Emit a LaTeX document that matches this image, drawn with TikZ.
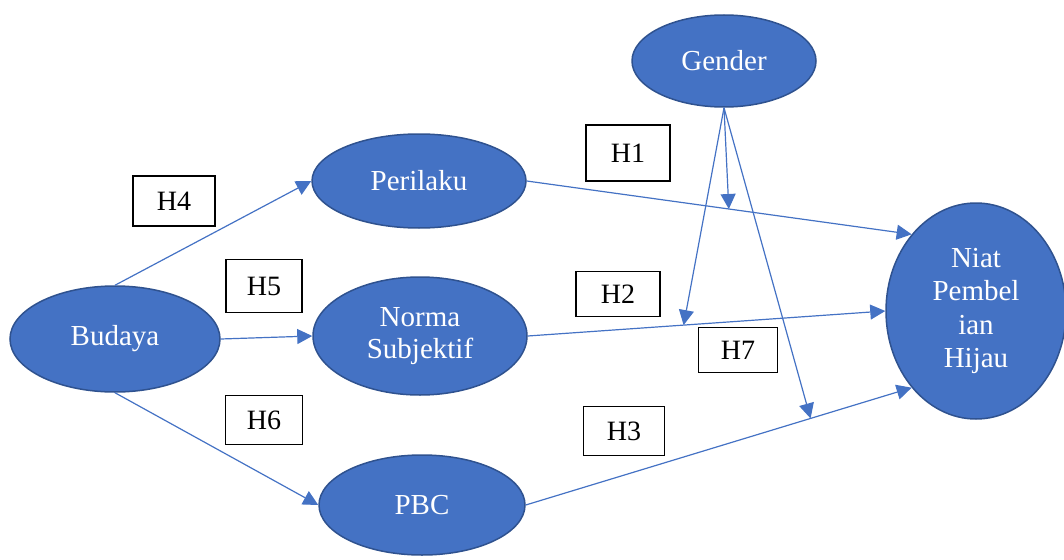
\documentclass[tikz,border=0pt]{standalone}
\usepackage{fontspec}
\setmainfont{Liberation Serif}
\usetikzlibrary{shapes.geometric,arrows.meta}
\definecolor{fillblue}{HTML}{4472C4}
\definecolor{edgeblue}{HTML}{2F528F}
\begin{document}
\begin{tikzpicture}[x=1pt,y=-1pt,
  construct/.style={ellipse,draw=edgeblue,line width=1.5pt,fill=fillblue,text=white,
    inner sep=0pt,font=\fontsize{29}{32}\selectfont,align=center},
  hyp/.style={draw=black,line width=1.1pt,fill=white,inner sep=0pt,
    font=\fontsize{28}{31}\selectfont},
  link/.style={draw=fillblue,line width=1.2pt,-{Triangle[length=15pt,width=15pt]}}]
\useasboundingbox (0,0) rectangle (1064,559);

% constructs
\node[construct,minimum width=184pt,minimum height=92pt] (gender) at (724,61) {Gender};
\node[construct,minimum width=214pt,minimum height=94pt] (perilaku) at (419,181) {Perilaku};
\node[construct,minimum width=210pt,minimum height=106pt] (budaya) at (115,339) {Budaya};
\node[construct,minimum width=214pt,minimum height=118pt] (norma) at (420,336) {Norma\\Subjektif};
\node[construct,minimum width=206pt,minimum height=100pt] (pbc) at (422,505) {PBC};
\node[construct,minimum width=180pt,minimum height=216pt,font=\fontsize{29}{33.5}\selectfont] (niat) at (976,311) {Niat\\Pembel\\ian\\Hijau};

% hypothesis labels
\node[hyp,minimum width=84pt,minimum height=56pt] (h1) at (628,153) {H1};
\node[hyp,minimum width=84pt,minimum height=45pt] (h2) at (618,294) {\raisebox{-5pt}{H2}};
\node[hyp,minimum width=79pt,minimum height=45pt] (h7) at (738,350) {H7};
\node[hyp,minimum width=81pt,minimum height=49pt] (h3) at (624,431) {H3};
\node[hyp,minimum width=82pt,minimum height=50pt] (h4) at (174,201) {H4};
\node[hyp,minimum width=76pt,minimum height=53pt] (h5) at (264,286) {H5};
\node[hyp,minimum width=77pt,minimum height=49pt] (h6) at (264,420) {H6};

% direct paths
\draw[link] (budaya.north) -- (perilaku.west);
\draw[link] (budaya.east) -- (norma.west);
\draw[link] (budaya.south) -- (pbc.west);
\draw[link] (perilaku.east) -- (niat.130) coordinate[pos=0.525] (m1);
\draw[link] (norma.east) -- (niat.west) coordinate[pos=0.436] (m2);
\draw[link] (pbc.east) -- (niat.230) coordinate[pos=0.738] (m3);

% moderation by gender
\draw[link] (gender.south) -- (m1);
\draw[link] (gender.south) -- (m2);
\draw[link] (gender.south) -- (m3);
\end{tikzpicture}
\end{document}
